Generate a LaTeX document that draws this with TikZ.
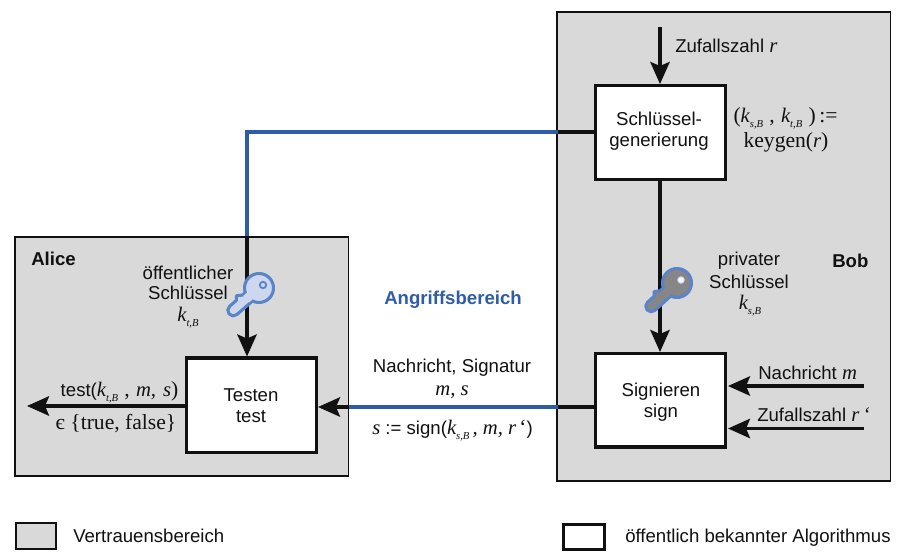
\documentclass[tikz,border=0pt]{standalone}
\usepackage{fontspec}
\setmainfont{Liberation Sans}
\newfontfamily\serifx{Liberation Serif}
\usetikzlibrary{arrows.meta}
\definecolor{zonegrey}{HTML}{D9D9D9}
\definecolor{linkblue}{HTML}{2F5CA8}
\definecolor{keyblue}{HTML}{5B84C8}
\definecolor{keylight}{HTML}{CDD8EE}
\definecolor{keygrey}{HTML}{868686}
\definecolor{inkk}{HTML}{111111}
\newcommand{\sfs}{\fontsize{13.95}{16}\selectfont}
\newcommand{\mth}[1]{{\serifx\fontsize{15.5}{17}\selectfont\itshape #1}}
\newcommand{\rmx}[1]{{\serifx\fontsize{16.2}{17}\selectfont #1}}
\newcommand{\subx}[1]{\raisebox{-0.5ex}{\serifx\fontsize{8}{9}\selectfont\itshape #1}}
\newcommand{\kk}[1]{\mth{k}\subx{#1}}
\tikzset{
  x=0.75pt,y=-0.75pt,
  zone/.style={draw=inkk,fill=zonegrey,line width=1.4pt,anchor=north west,inner sep=0pt},
  algo/.style={draw=inkk,fill=white,line width=2.6pt,anchor=north west,inner sep=0pt},
  lab/.style={inner sep=0pt,align=center,font=\sfs,text=inkk},
  conn/.style={line width=2.6pt,draw=inkk},
  arr/.style={conn,-{Stealth[length=16.5pt,width=14.5pt,inset=3pt]}},
  bluelink/.style={line width=2.6pt,draw=linkblue,line cap=rect},
}
\newcommand{\keyicon}[5]{% cx cy tail-x tail-y fill
  \begin{scope}[shift={(#1,#2)}]
    \pgfmathsetmacro{\ang}{atan2(-(#4),#3)}
    \pgfmathsetmacro{\len}{veclen(#3,#4)-7}
    \begin{scope}[rotate=\ang]
      \path[fill=#5,draw=keyblue,line width=2.3pt,line join=round]
        (10,-5.5) -- (\len,-5.5) arc[start angle=-90,end angle=90,radius=5.5]
        -- (\len-9,5.5) -- (\len-12,9) -- (\len-17,5.5) -- (10,5.5) -- cycle;
      \path[fill=#5,draw=keyblue,line width=2.3pt] (0,0) circle[radius=14.5];
      \fill[#5] (9,-4.4) rectangle (17,4.4);
    \end{scope}
  \end{scope}
}
\begin{document}
\begin{tikzpicture}
\useasboundingbox (0,0) rectangle (907,559);
\fill[white] (0,0) rectangle (907,559);

% zones
\node[zone,minimum width=333.5*0.75pt,minimum height=239.5*0.75pt] (alice) at (14,236) {};
\node[zone,minimum width=333.5*0.75pt,minimum height=469*0.75pt] (bob) at (556,11) {};

% algorithms
\node[algo,minimum width=130.5*0.75pt,minimum height=94*0.75pt] (gen) at (593.5,84) {};
\node[algo,minimum width=130.5*0.75pt,minimum height=94.5*0.75pt] (test) at (184.5,356.5) {};
\node[algo,minimum width=130.5*0.75pt,minimum height=93.5*0.75pt] (sign) at (593.5,352) {};
\node[lab,anchor=center] (gentxt) at (659,131) {Schlüssel-\\generierung};
\node[lab,anchor=center] (testtxt) at (251,405.5) {Testen\\test};
\node[lab,anchor=center] (signtxt) at (661,402) {Signieren\\sign};

% free ends
\coordinate (rin) at (660,27);
\coordinate (corner) at (247,132);
\coordinate (bobA) at (556,132);
\coordinate (aliceTop) at (247,236);
\coordinate (bobB) at (556,407);
\coordinate (aliceR) at (349,407);
\coordinate (outL) at (27,406);
\coordinate (minS) at (863.5,386);
\coordinate (rinS) at (863.5,428.5);
\coordinate (testW) at (186,406);
\coordinate (testN) at (247,356.5);
\coordinate (testE) at (318,407);
\coordinate (signW) at (595,407);
\coordinate (genW) at (595,132);
\coordinate (minE) at (728,386);
\coordinate (rinE) at (728,428.5);

% connectors
\draw[arr] (rin) -- (gen.north -| rin);
\draw[arr] (gen.south -| rin) -- (sign.north -| rin);
\draw[conn] (genW) -- (bobA);
\draw[bluelink] (bobA) -- (corner) -- (aliceTop);
\draw[arr] (aliceTop) -- (testN);
\draw[conn] (signW) -- (bobB);
\draw[bluelink] (bobB) -- (aliceR);
\draw[arr] (aliceR) -- (testE);
\draw[arr] (testW) -- (outL);
\draw[arr] (minS) -- (minE);
\draw[arr] (rinS) -- (rinE);

% keys
\keyicon{259}{288}{-31}{27}{keylight}
\path[fill=keylight,draw=keyblue,line width=1.4pt] (263,285) circle[radius=3.2];
\keyicon{677}{283}{-31}{28}{keygrey}
\path[fill=white,draw=keylight,line width=0.8pt] (681,280) circle[radius=3.2];

% labels
\node[lab,anchor=west,font=\sfs\bfseries] (alicel) at (31,259) {Alice};
\node[lab,anchor=west,font=\sfs\bfseries] (bobl) at (832,261) {Bob};
\node[lab,anchor=center,font=\sfs\bfseries,text=linkblue] (angr) at (453,300) {Angriffsbereich};
\node[lab,anchor=center] (pub1) at (188,273) {öffentlicher};
\node[lab,anchor=center] (pub2) at (188,293) {Schlüssel};
\node[lab,anchor=center] (pub3) at (188,318) {\kk{t,B}};
\node[lab,anchor=center] (prv1) at (749,261) {privater};
\node[lab,anchor=center] (prv2) at (749,282) {Schlüssel};
\node[lab,anchor=center] (prv3) at (750,306) {\kk{s,B}};
\node[lab,anchor=west] (zuf) at (675,46) {Zufallszahl \mth{r}};
\node[lab,anchor=center] (gen1) at (785.5,118) {\rmx{(}\kk{s,B}\,\,\rmx{,}\,\,\kk{t,B}\,\,\rmx{)\,:=}};
\node[lab,anchor=center] (gen2) at (786,142) {\rmx{keygen(}\mth{r}\rmx{)}};
\node[lab,anchor=center] (msg1) at (452,368) {Nachricht, Signatur};
\node[lab,anchor=center] (msg2) at (452,392) {\mth{m, s}};
\node[lab,anchor=center] (msg3) at (452.5,431) {\mth{s} := sign(\kk{s,B}\,\mth{, m, r}\,\rmx{‘})};
\node[lab,anchor=center] (out1) at (119.5,392) {test(\kk{t,B}\,\,\rmx{,}\,\,\mth{m,\,\,s}\rmx{)}};
\node[lab,anchor=center] (out2) at (116,424) {\rmx{є \{true, false\}}};
\node[lab,anchor=west] (nm) at (758,373) {Nachricht \mth{m}};
\node[lab,anchor=west] (zr) at (757,415) {Zufallszahl \mth{r\,‘}};

% legend
\node[zone,minimum width=40*0.75pt,minimum height=26*0.75pt] (lg1) at (15,522) {};
\node[lab,anchor=west,font=\sfs] (lt1) at (73,536) {Vertrauensbereich};
\node[algo,minimum width=41*0.75pt,minimum height=25*0.75pt] (lg2) at (562,523) {};
\node[lab,anchor=west,font=\sfs] (lt2) at (625,538) {öffentlich bekannter Algorithmus};
\end{tikzpicture}
\end{document}
